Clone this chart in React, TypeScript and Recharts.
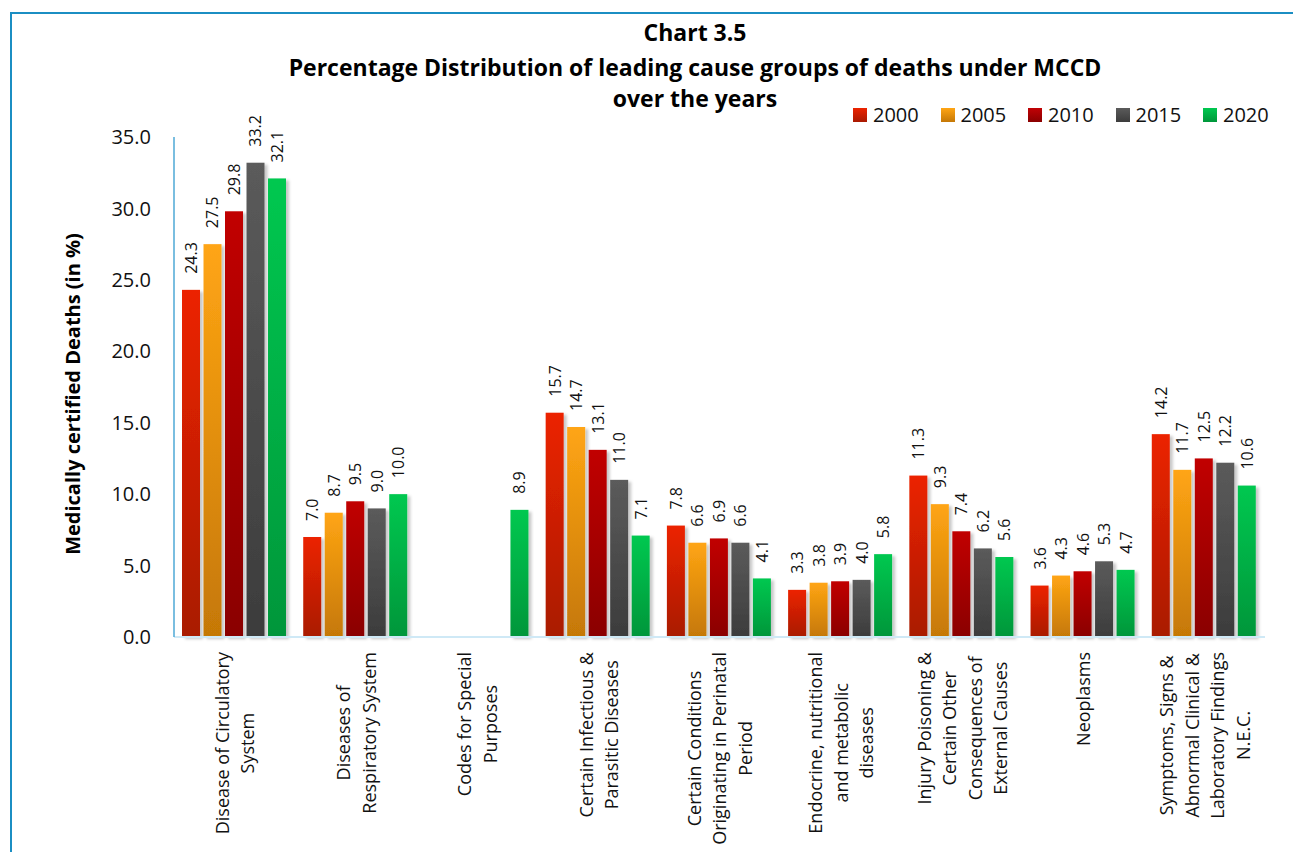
import React from "react";
import { Bar, BarChart, LabelList, XAxis, YAxis } from "recharts";

const categories = [
  "Disease of Circulatory\nSystem",
  "Diseases of\nRespiratory System",
  "Codes for Special\nPurposes",
  "Certain Infectious &\nParasitic Diseases",
  "Certain Conditions\nOriginating in Perinatal\nPeriod",
  "Endocrine, nutritional\nand metabolic\ndiseases",
  "Injury Poisoning &\nCertain Other\nConsequences of\nExternal Causes",
  "Neoplasms",
  "Symptoms, Signs &\nAbnormal Clinical &\nLaboratory Findings\nN.E.C."
];

const years = ["2000", "2005", "2010", "2015", "2020"];

const y2000 = [24.3, 7.0, null, 15.7, 7.8, 3.3, 11.3, 3.6, 14.2];
const y2005 = [27.5, 8.7, null, 14.7, 6.6, 3.8, 9.3, 4.3, 11.7];
const y2010 = [29.8, 9.5, null, 13.1, 6.9, 3.9, 7.4, 4.6, 12.5];
const y2015 = [33.2, 9.0, null, 11.0, 6.6, 4.0, 6.2, 5.3, 12.2];
const y2020 = [32.1, 10.0, 8.9, 7.1, 4.1, 5.8, 5.6, 4.7, 10.6];

const yTicks = [0, 5, 10, 15, 20, 25, 30, 35];

// gradient top -> bottom per year
const colors: Record<string, [string, string]> = {
  "2000": ["#ec2300", "#a91a02"],
  "2005": ["#ffa514", "#c57806"],
  "2010": ["#c10205", "#8a0000"],
  "2015": ["#5b5b5b", "#3c3c3c"],
  "2020": ["#00c850", "#00963a"]
};

const data = categories.map((name, i) => ({
  name,
  "2000": y2000[i],
  "2005": y2005[i],
  "2010": y2010[i],
  "2015": y2015[i],
  "2020": y2020[i]
}));

const FONT = "'Open Sans', sans-serif";

let ctx: CanvasRenderingContext2D | null = null;
function measure(text: string, font: string) {
  if (!ctx) ctx = document.createElement("canvas").getContext("2d");
  if (!ctx) return text.length * 9;
  ctx.font = font;
  return ctx.measureText(text).width;
}

function CategoryTick(props: any) {
  const { x, payload } = props;
  const lines = String(payload.value).split("\n");
  const maxW = Math.max(...lines.map((l) => measure(l, "18px 'Open Sans'")));
  const top = 652;
  const cy = top + maxW / 2;
  const lh = 25.5;
  return (
    <g>
      {lines.map((line, i) => {
        const cx = x + (i - (lines.length - 1) / 2) * lh;
        return (
          <text
            key={i}
            x={cx}
            y={cy}
            transform={`rotate(-90, ${cx}, ${cy})`}
            textAnchor="middle"
            dominantBaseline="central"
            fontSize={18}
            fontFamily={FONT}
            fill="#111"
          >
            {line}
          </text>
        );
      })}
    </g>
  );
}

function ValueLabel(props: any) {
  const { x, y, width, value } = props;
  if (value == null) return null;
  const cx = x + width / 2;
  const cy = y - 16;
  return (
    <text
      x={cx}
      y={cy}
      transform={`rotate(-90, ${cx}, ${cy})`}
      textAnchor="start"
      dominantBaseline="central"
      fontSize={16}
      fontFamily={FONT}
      fill="#111"
    >
      {Number(value).toFixed(1)}
    </text>
  );
}

function ShadowBar(props: any) {
  const { x, y, width, height, fill } = props;
  if (!height || height <= 0) return null;
  return <rect x={x} y={y} width={width} height={height} fill={fill} filter="url(#barShadow)" />;
}

function LegendBox() {
  return (
    <div style={{ display: "flex", fontFamily: FONT, fontSize: 20, color: "#111" }}>
      {years.map((yr) => (
        <div key={yr} style={{ display: "flex", alignItems: "center", width: 87.5 }}>
          <span
            style={{
              display: "inline-block",
              width: 14,
              height: 14,
              marginRight: 6,
              background: `linear-gradient(${colors[yr][0]}, ${colors[yr][1]})`
            }}
          />
          <span>{yr}</span>
        </div>
      ))}
    </div>
  );
}

export default function App() {
  return (
    <div style={{ position: "absolute", left: 0, top: 0, width: 1293, height: 852, overflow: "hidden", background: "#fff" }}>
      <div
        style={{
          position: "absolute",
          left: 10,
          top: 12,
          width: 1400,
          height: 1000,
          borderLeft: "2px solid #1b8ec3",
          borderTop: "2px solid #1b8ec3"
        }}
      />
      <div
        style={{
          position: "absolute",
          left: 0,
          width: 1390,
          top: 15,
          textAlign: "center",
          fontFamily: FONT,
          fontWeight: 700,
          fontSize: 23,
          lineHeight: "35px",
          color: "#000"
        }}
      >
        <div>Chart 3.5</div>
        <div>Percentage Distribution of leading cause groups of deaths under MCCD</div>
        <div style={{ marginTop: -4 }}>over the years</div>
      </div>
      <div
        style={{
          position: "absolute",
          left: 72,
          top: 394,
          transform: "translate(-50%, -50%) rotate(-90deg)",
          whiteSpace: "nowrap",
          fontFamily: FONT,
          fontWeight: 700,
          fontSize: 20,
          color: "#000"
        }}
      >
        Medically certified Deaths (in %)
      </div>
      <div style={{ position: "absolute", left: 0, top: 0 }}>
        <BarChart
          width={1293}
          height={852}
          data={data}
          margin={{ top: 137, right: 28, bottom: 15, left: 74 }}
          barCategoryGap={8}
          barGap={3.5}
        >
          <defs>
            {years.map((yr) => (
              <linearGradient key={yr} id={`g${yr}`} x1="0" y1="0" x2="0" y2="1">
                <stop offset="0%" stopColor={colors[yr][0]} />
                <stop offset="100%" stopColor={colors[yr][1]} />
              </linearGradient>
            ))}
            <filter id="barShadow" x="-20%" y="-5%" width="150%" height="115%">
              <feDropShadow dx="3" dy="2" stdDeviation="1.5" floodColor="#000" floodOpacity="0.22" />
            </filter>
          </defs>
          <XAxis
            dataKey="name"
            interval={0}
            height={200}
            tick={<CategoryTick />}
            tickLine={false}
            axisLine={{ stroke: "#cfe9f6", strokeWidth: 2 }}
          />
          <YAxis
            width={100}
            domain={[0, 35]}
            ticks={yTicks}
            tickFormatter={(v: number) => v.toFixed(1)}
            tickLine={false}
            tickSize={0}
            tickMargin={23}
            tick={{ fill: "#111", fontSize: 20, fontFamily: FONT }}
            axisLine={{ stroke: "#4ea8d6", strokeWidth: 1.5 }}
          />
          {years.map((yr) => (
            <Bar
              key={yr}
              dataKey={yr}
              fill={`url(#g${yr})`}
              shape={<ShadowBar />}
              isAnimationActive={false}
            >
              <LabelList dataKey={yr} content={<ValueLabel />} />
            </Bar>
          ))}
        </BarChart>
      </div>
      <div style={{ position: "absolute", left: 853, top: 101 }}>
        <LegendBox />
      </div>
    </div>
  );
}
